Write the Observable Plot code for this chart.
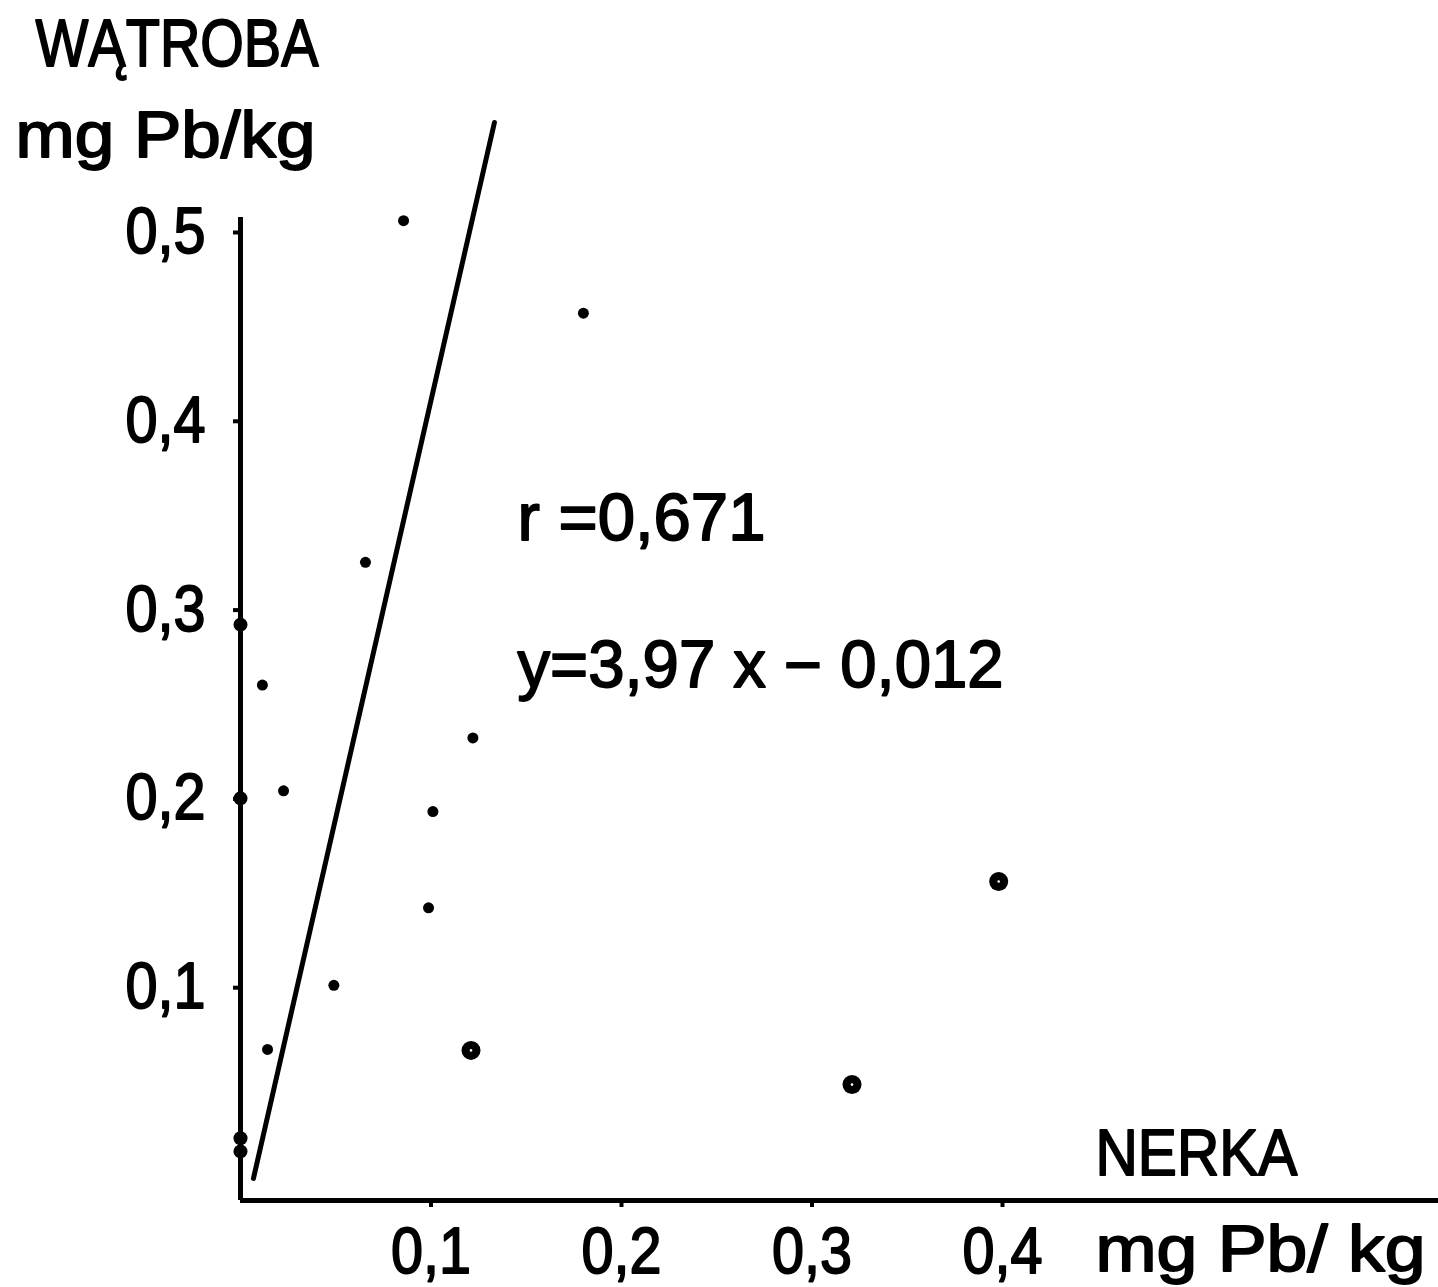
<!DOCTYPE html>
<html><head><meta charset="utf-8">
<script src="https://cdn.jsdelivr.net/npm/d3@7"></script>
<script src="https://cdn.jsdelivr.net/npm/@observablehq/plot@0.6"></script>
<style>
html,body{margin:0;padding:0;background:#fff;}
#chart svg text{font-family:"Liberation Sans Narrow","Liberation Sans",sans-serif;fill:#000;stroke:#000;stroke-width:1.8px;stroke-linejoin:round;}
</style>
</head><body><div id="chart"></div>
<script>
// Kidney (NERKA) vs liver (WĄTROBA) lead content, mg Pb/kg
const nerka   = [0.0856, 0.180, 0.0656, 0.0115, 0.122, 0.0226, 0.101, 0.0987, 0.049, 0.0142];
const watroba = [0.519, 0.470, 0.338, 0.273, 0.245, 0.217, 0.206, 0.155, 0.114, 0.080];
// larger (ringed) points
const nerkaRing   = [0.121, 0.321, 0.398];
const watrobaRing = [0.0795, 0.0614, 0.169];
// points lying on the liver axis
const nerkaAxis   = [0, 0, 0, 0];
const watrobaAxis = [0.305, 0.213, 0.033, 0.026];
// regression line as drawn
const lineX = [0.0068, 0.1333];
const lineY = [0.0117, 0.5710];
const xTicks = [0.1, 0.2, 0.3, 0.4];
const yTicks = [0.1, 0.2, 0.3, 0.4, 0.5];
const xTickLabels = ["0,1", "0,2", "0,3", "0,4"];
const yTickLabels = ["0,1", "0,2", "0,3", "0,4", "0,5"];
const yTitle = ["WĄTROBA", "mg Pb/kg"];
const xTitle = ["NERKA", "mg Pb/ kg"];
const annot = ["r =0,671", "y=3,97 x − 0,012"];

const pts = nerka.map((x, i) => ({x, y: watroba[i]}));
const ring = nerkaRing.map((x, i) => ({x, y: watrobaRing[i]}));
const onAxis = nerkaAxis.map((x, i) => ({x, y: watrobaAxis[i]}));
const reg = lineX.map((x, i) => ({x, y: lineY[i]}));
const fs = 64;

const chart = Plot.plot({
  width: 1438, height: 1287,
  marginLeft: 240, marginRight: 0, marginTop: 0, marginBottom: 87,
  x: {domain: [0, 1198 / 1905]},
  y: {domain: [0, 1200 / 1888]},
  style: {background: "#fff", color: "#000", overflow: "visible"},
  marks: [
    Plot.ruleY([0], {x1: 0, x2: 1198 / 1905, strokeWidth: 5}),
    Plot.ruleX([0], {y1: 0, y2: 0.5207, strokeWidth: 5}),
    Plot.axisX(xTicks, {label: null, tickSize: 7, strokeWidth: 4, tickPadding: 20, fontSize: fs,
      tickFormat: (d) => xTickLabels[xTicks.indexOf(d)]}),
    Plot.axisY(yTicks, {label: null, tickSize: 7, strokeWidth: 4, tickPadding: 28, fontSize: fs, dy: -24,
      tickFormat: (d) => yTickLabels[yTicks.indexOf(d)]}),
    Plot.line(reg, {x: "x", y: "y", strokeWidth: 5, strokeLinecap: "round"}),
    Plot.dot(pts, {x: "x", y: "y", r: 5.5, fill: "#000"}),
    Plot.dot(onAxis, {x: "x", y: "y", r: 7, fill: "#000"}),
    Plot.dot(ring, {x: "x", y: "y", r: 9.5, fill: "#000"}),
    Plot.dot(ring, {x: "x", y: "y", r: 1.3, fill: "#fff"}),
    Plot.text([yTitle[0]], {x: -0.1076, y: 0.6123, textAnchor: "start", fontSize: 67}),
    Plot.text([yTitle[1]], {x: -0.1181, y: 0.5636, textAnchor: "start", fontSize: 64}),
    Plot.text([xTitle[0]], {x: 0.4488, y: 0.0244, textAnchor: "start", fontSize: 64}),
    Plot.text([xTitle[1]], {x: 0.4488, y: -0.0265, textAnchor: "start", fontSize: 64}),
    Plot.text([annot[0]], {x: 0.1454, y: 0.3612, textAnchor: "start", fontSize: 66}),
    Plot.text([annot[1]], {x: 0.1454, y: 0.2834, textAnchor: "start", fontSize: 66})
  ]
});
document.getElementById("chart").append(chart);

// fit the lettering widths to the hand-lettered original
const textWidths = new Map([["WĄTROBA", 283], ["mg Pb/kg", 300], ["NERKA", 202], ["mg Pb/ kg", 330],
  ["r =0,671", 248], ["y=3,97 x − 0,012", 486]]);
chart.querySelectorAll("text").forEach((t) => {
  const s = t.textContent;
  const w = textWidths.has(s) ? textWidths.get(s) : (/^0,\d$/.test(s) ? 80 : null);
  if (w) { t.setAttribute("textLength", w); t.setAttribute("lengthAdjust", "spacingAndGlyphs"); }
});
</script>
</body></html>
